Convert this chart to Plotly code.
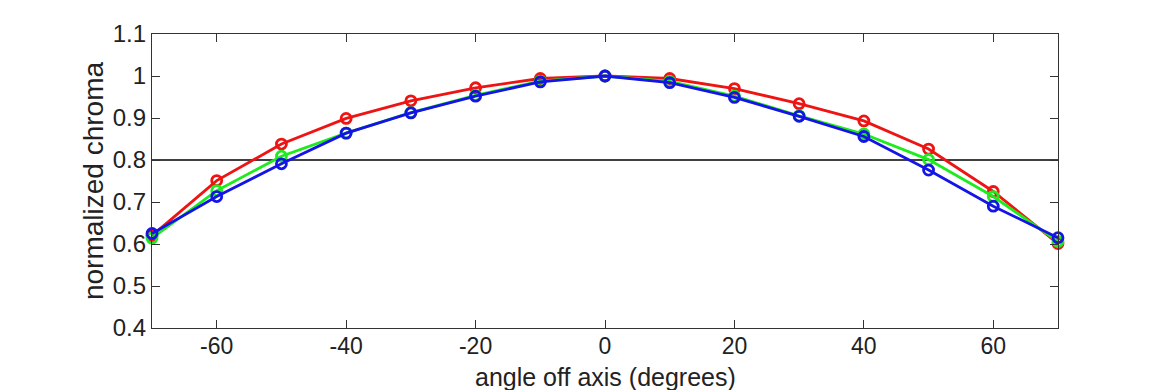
import plotly.graph_objects as go

angles = [-70, -60, -50, -40, -30, -20, -10, 0, 10, 20, 30, 40, 50, 60, 70]
red = [0.620, 0.751, 0.838, 0.899, 0.941, 0.972, 0.994, 1.000, 0.994, 0.970, 0.934, 0.893, 0.826, 0.725, 0.601]
green = [0.614, 0.727, 0.809, 0.864, 0.913, 0.954, 0.988, 1.000, 0.987, 0.952, 0.905, 0.862, 0.801, 0.713, 0.606]
blue = [0.625, 0.713, 0.791, 0.864, 0.912, 0.952, 0.986, 1.000, 0.984, 0.949, 0.904, 0.856, 0.776, 0.690, 0.615]

y_ticks = [0.4, 0.5, 0.6, 0.7, 0.8, 0.9, 1.0, 1.1]
y_labels = ["0.4", "0.5", "0.6", "0.7", "0.8", "0.9", "1", "1.1"]
x_ticks = [-60, -40, -20, 0, 20, 40, 60]
x_labels = ["-60", "-40", "-20", "0", "20", "40", "60"]
threshold = 0.8
x_title = "angle off axis (degrees)"

fig = go.Figure()
for vals, col in [(red, "rgb(238,20,20)"), (green, "rgb(30,235,30)"), (blue, "rgb(20,20,230)")]:
    fig.add_trace(go.Scatter(
        x=angles, y=vals, mode="lines+markers",
        line=dict(color=col, width=2.8),
        marker=dict(symbol="circle-open", size=10, color=col, line=dict(width=2.8, color=col)),
        showlegend=False, cliponaxis=False))

fig.add_shape(type="line", xref="paper", x0=0, x1=1, yref="y", y0=threshold, y1=threshold,
              line=dict(color="black", width=1.3), layer="below")

fig.add_annotation(text=x_title, xref="paper", yref="paper", x=0.5, y=0,
                   xanchor="center", yanchor="top", yshift=-33, showarrow=False,
                   font=dict(family="Liberation Sans, Arial, sans-serif", size=25, color="#222"))

axis_common = dict(showline=True, linecolor="#333", linewidth=1.3, mirror="ticks",
                   ticks="inside", ticklen=8, tickwidth=1, tickcolor="#333",
                   showgrid=False, zeroline=False)

fig.update_layout(
    width=1170, height=390,
    margin=dict(l=144, r=120, t=21, b=70),
    paper_bgcolor="white", plot_bgcolor="white",
    font=dict(family="Liberation Sans, Arial, sans-serif", color="#222"),
    xaxis=dict(range=[-70, 70], tickvals=x_ticks, ticktext=x_labels, ticklabelstandoff=-3,
               tickfont=dict(family="Liberation Sans, Arial, sans-serif", size=23, color="#222"),
               **axis_common),
    yaxis=dict(range=[0.4, 1.1], tickvals=y_ticks, ticktext=y_labels,
               tickfont=dict(family="Liberation Sans, Arial, sans-serif", size=24, color="#222"),
               title=dict(text="normalized chroma", font=dict(size=28), standoff=0),
               **axis_common),
)

fig.write_html("out.html")
